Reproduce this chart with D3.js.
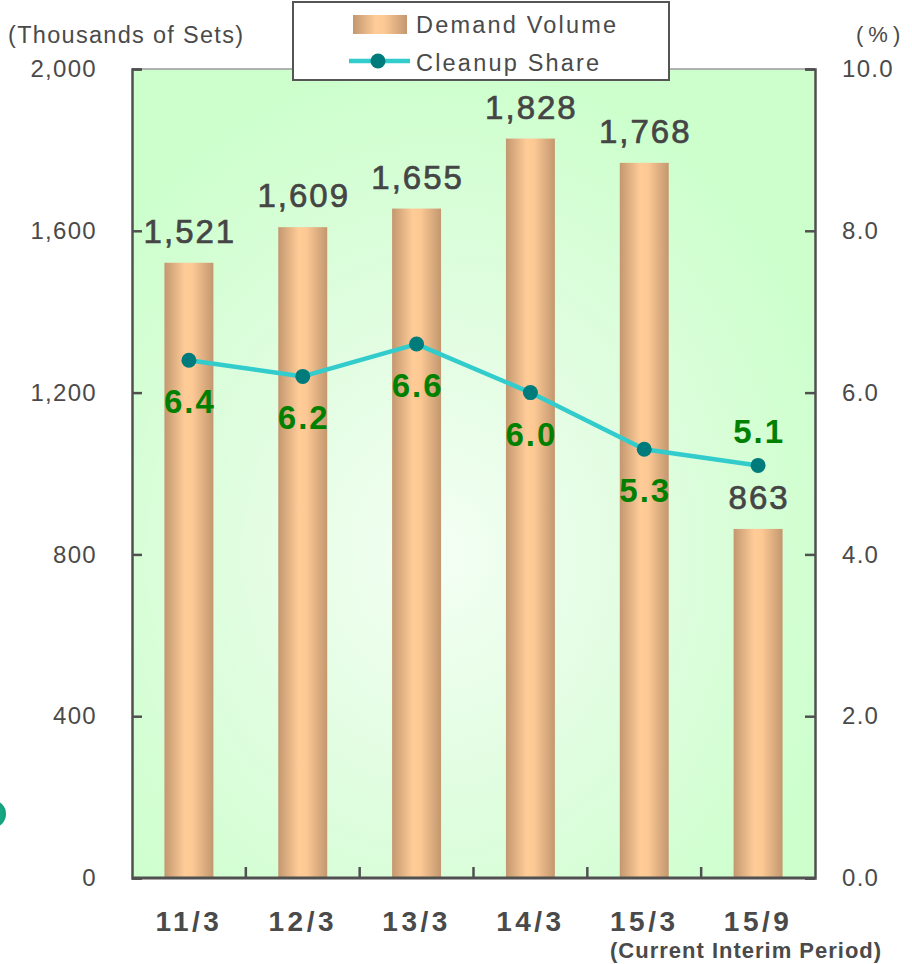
<!DOCTYPE html>
<html>
<head>
<meta charset="utf-8">
<script src="https://cdn.jsdelivr.net/npm/d3@7"></script>
<style>
  html, body { margin: 0; padding: 0; background: #fff; }
  svg { display: block; font-family: "Liberation Sans", Arial, sans-serif; }
</style>
</head>
<body>
<svg id="chart" width="912" height="964"></svg>
<script>
// Period labels (fiscal year-end / interim)
const categories = ["11/3", "12/3", "13/3", "14/3", "15/3", "15/9"];
// Demand volume, thousands of sets
const demandVolume = [1521, 1609, 1655, 1828, 1768, 863];
// Cleanup share, %
const cleanupShare = [6.4, 6.2, 6.6, 6.0, 5.3, 5.1];
// Axis tick values
const leftTicks = [0, 400, 800, 1200, 1600, 2000];
const rightTicks = [0, 2, 4, 6, 8, 10];

const svg = d3.select("#chart");
const plot = { left: 132, right: 815, top: 69, bottom: 878 };

const x = d3.scaleBand().domain(categories).range([plot.left, plot.right]).padding(0);
const yL = d3.scaleLinear().domain([0, 2000]).range([plot.bottom, plot.top]);
const yR = d3.scaleLinear().domain([0, 10]).range([plot.bottom, plot.top]);
const barW = x.bandwidth() * 0.43;
const cx = d => x(d) + x.bandwidth() / 2;

const defs = svg.append("defs");
const bg = defs.append("radialGradient").attr("id", "bgGrad")
  .attr("cx", "0.45").attr("cy", "0.6").attr("r", "0.62");
bg.append("stop").attr("offset", "0").attr("stop-color", "#f4fff4");
bg.append("stop").attr("offset", "0.45").attr("stop-color", "#e2fde2");
bg.append("stop").attr("offset", "1").attr("stop-color", "#ccffcc");

const barGrad = defs.append("linearGradient").attr("id", "barGrad")
  .attr("x1", "0").attr("x2", "1").attr("y1", "0").attr("y2", "0");
barGrad.append("stop").attr("offset", "0").attr("stop-color", "#c3976f");
barGrad.append("stop").attr("offset", "0.42").attr("stop-color", "#ffcc98");
barGrad.append("stop").attr("offset", "0.58").attr("stop-color", "#fcc894");
barGrad.append("stop").attr("offset", "1").attr("stop-color", "#c3976f");

const dot = defs.append("radialGradient").attr("id", "dotGrad");
dot.append("stop").attr("offset", "0").attr("stop-color", "#1fb890");
dot.append("stop").attr("offset", "1").attr("stop-color", "#14a07c");

// decorative dot at the left margin
svg.append("circle").attr("cx", -8).attr("cy", 814).attr("r", 14).attr("fill", "url(#dotGrad)");

// plot background
svg.append("rect")
  .attr("x", plot.left).attr("y", plot.top)
  .attr("width", plot.right - plot.left).attr("height", plot.bottom - plot.top)
  .attr("fill", "url(#bgGrad)");

// bars
svg.append("g").selectAll("rect").data(demandVolume).join("rect")
  .attr("x", (d, i) => cx(categories[i]) - barW / 2)
  .attr("y", d => yL(d))
  .attr("width", barW)
  .attr("height", d => yL(0) - yL(d))
  .attr("fill", "url(#barGrad)");

// frame: top line lighter, sides and bottom dark
svg.append("line").attr("x1", plot.left).attr("x2", plot.right)
  .attr("y1", plot.top).attr("y2", plot.top)
  .attr("stroke", "#9a9a9a").attr("stroke-width", 1.5);

const axisColor = "#505050";
const tickFont = g => g.selectAll("text")
  .attr("fill", "#4a4a4a").style("font-size", "24px").style("letter-spacing", "1.3px");

const leftAxis = svg.append("g").attr("transform", `translate(${plot.left},0)`)
  .call(d3.axisLeft(yL).tickValues(leftTicks).tickSize(-10).tickPadding(35)
    .tickFormat(d3.format(",")));
leftAxis.selectAll("path, line").attr("stroke", axisColor).attr("stroke-width", 2.5);
leftAxis.call(tickFont);
leftAxis.selectAll("text").attr("font-family", null);

const rightAxis = svg.append("g").attr("transform", `translate(${plot.right},0)`)
  .call(d3.axisRight(yR).tickValues(rightTicks).tickSize(-10).tickPadding(27)
    .tickFormat(d3.format(".1f")));
rightAxis.selectAll("path, line").attr("stroke", axisColor).attr("stroke-width", 2.5);
rightAxis.call(tickFont);
rightAxis.selectAll("text").attr("font-family", null);

// bottom axis: category labels, separators between periods
const bottomAxis = svg.append("g").attr("transform", `translate(0,${plot.bottom})`)
  .call(d3.axisBottom(x).tickSize(0).tickPadding(33));
bottomAxis.select(".domain").remove();
bottomAxis.selectAll("text")
  .attr("font-family", null)
  .attr("fill", "#4a4a4a").style("font-size", "28px").style("font-weight", "bold")
  .style("letter-spacing", "3.5px");
svg.append("line").attr("x1", plot.left).attr("x2", plot.right)
  .attr("y1", plot.bottom).attr("y2", plot.bottom)
  .attr("stroke", axisColor).attr("stroke-width", 3);
svg.append("g").selectAll("line").data(categories.slice(1)).join("line")
  .attr("x1", d => x(d)).attr("x2", d => x(d))
  .attr("y1", plot.bottom).attr("y2", plot.bottom - 11)
  .attr("stroke", axisColor).attr("stroke-width", 2.5);

svg.append("text").attr("x", cx("15/9") - 12).attr("y", 958)
  .attr("text-anchor", "middle").attr("fill", "#4a4a4a")
  .style("font-size", "22px").style("font-weight", "bold").style("letter-spacing", "1px")
  .text("(Current Interim Period)");

// axis unit titles
svg.append("text").attr("x", 8).attr("y", 43).attr("fill", "#4a4a4a")
  .style("font-size", "23.5px").style("letter-spacing", "1.3px").text("(Thousands of Sets)");
svg.append("text").attr("x", 856).attr("y", 42).attr("fill", "#4a4a4a")
  .style("font-size", "22px").style("letter-spacing", "5px").text("(%)");

// share line
const line = d3.line().x((d, i) => cx(categories[i])).y(d => yR(d));
svg.append("path").datum(cleanupShare)
  .attr("d", line).attr("fill", "none")
  .attr("stroke", "#33cccc").attr("stroke-width", 4.5).attr("stroke-linejoin", "round");
svg.append("g").selectAll("circle").data(cleanupShare).join("circle")
  .attr("cx", (d, i) => cx(categories[i])).attr("cy", d => yR(d)).attr("r", 7.5)
  .attr("fill", "#007b7b");

// bar value labels
svg.append("g").selectAll("text").data(demandVolume).join("text")
  .attr("x", (d, i) => cx(categories[i]) + 1)
  .attr("y", d => yL(d) - 20)
  .attr("text-anchor", "middle")
  .attr("fill", "#454545").attr("stroke", "#454545").attr("stroke-width", 0.7)
  .style("font-size", "33px").style("letter-spacing", "2px")
  .text(d => d3.format(",")(d));

// share value labels (last one sits above its point)
svg.append("g").selectAll("text").data(cleanupShare).join("text")
  .attr("x", (d, i) => cx(categories[i]) + 1)
  .attr("y", (d, i) => i === cleanupShare.length - 1 ? yR(d) - 22 : yR(d) + 53)
  .attr("text-anchor", "middle")
  .attr("fill", "#008000")
  .style("font-size", "33px").style("font-weight", "bold").style("letter-spacing", "2px")
  .text(d => d3.format(".1f")(d));

// legend
const legend = svg.append("g");
legend.append("rect").attr("x", 293).attr("y", 2).attr("width", 376).attr("height", 78)
  .attr("fill", "#fff").attr("stroke", "#555").attr("stroke-width", 2);
legend.append("rect").attr("x", 353).attr("y", 15).attr("width", 54).attr("height", 19)
  .attr("fill", "url(#barGrad)");
legend.append("line").attr("x1", 349).attr("x2", 410).attr("y1", 61).attr("y2", 61)
  .attr("stroke", "#33cccc").attr("stroke-width", 4.5);
legend.append("circle").attr("cx", 378).attr("cy", 61).attr("r", 7.5).attr("fill", "#007b7b");
legend.append("text").attr("x", 416).attr("y", 33).attr("fill", "#4a4a4a")
  .style("font-size", "23.5px").style("letter-spacing", "2.2px").text("Demand Volume");
legend.append("text").attr("x", 416).attr("y", 71).attr("fill", "#4a4a4a")
  .style("font-size", "23.5px").style("letter-spacing", "2.2px").text("Cleanup Share");
</script>
</body>
</html>
